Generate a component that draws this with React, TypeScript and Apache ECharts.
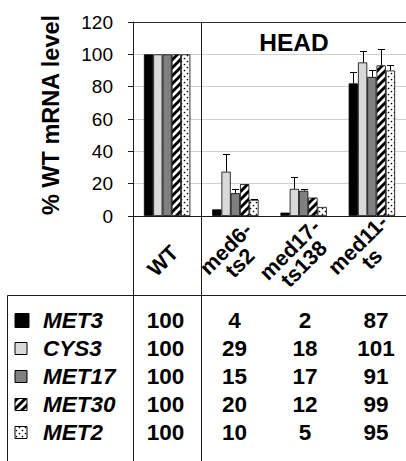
import React, { useEffect, useRef } from "react";
import * as echarts from "echarts";

// ---------- data ----------
const categories = ["WT", "med6-ts2", "med17-ts138", "med11-ts"];
const categoryLabels = ["WT", "med6-\nts2", "med17-\nts138", "med11-\nts"];
const genes = ["MET3", "CYS3", "MET17", "MET30", "MET2"];

const met3Values = [100, 4.1, 2.1, 82];
const cys3Values = [100, 27.4, 16.8, 95];
const met17Values = [100, 14.1, 15.6, 86];
const met30Values = [100, 19.7, 11.4, 93.2];
const met2Values = [100, 10, 5.6, 90];

const met3Errors = [0, 0, 0, 7.3];
const cys3Errors = [0, 10.8, 7.3, 7.3];
const met17Errors = [0, 2.3, 1, 4.1];
const met30Errors = [0, 0, 0, 10.3];
const met2Errors = [0, 0.8, 0, 3.6];

const met3Table = [100, 4, 2, 87];
const cys3Table = [100, 29, 18, 101];
const met17Table = [100, 15, 17, 91];
const met30Table = [100, 20, 12, 99];
const met2Table = [100, 10, 5, 95];

const yMin = 0;
const yMax = 120;
const yInterval = 20;

const chartTitle = "HEAD";
const yAxisTitle = "% WT mRNA level";

// ---------- layout ----------
const W = 406;
const H = 461;
const GRID_LEFT = 133;
const GRID_TOP = 22;
const GRID_HEIGHT = 194;
const GRID_WIDTH = 284;
const BAR_FRAC = 0.136;
const DIVIDER_X = 201.5;
const TABLE_TOP = 295.5;
const TABLE_LEFT = 7.5;
const ROW_Y0 = 320;
const ROW_STEP = 28;
const COL_X = [165.5, 234.5, 305, 376];
const LABEL_POS = [
  [163, 261],
  [233, 256],
  [297, 257],
  [365, 252],
];
const FONT = "Liberation Sans";

function makeHatch() {
  const c = document.createElement("canvas");
  c.width = 8;
  c.height = 8;
  const g = c.getContext("2d")!;
  g.fillStyle = "#fff";
  g.fillRect(0, 0, 8, 8);
  g.strokeStyle = "#000";
  g.lineWidth = 3;
  g.beginPath();
  for (let k = -1; k <= 1; k++) {
    g.moveTo(k * 8 - 1, 9);
    g.lineTo(k * 8 + 9, -1);
  }
  g.stroke();
  return c;
}

function makeDots() {
  const c = document.createElement("canvas");
  c.width = 6;
  c.height = 6;
  const g = c.getContext("2d")!;
  g.fillStyle = "#fff";
  g.fillRect(0, 0, 6, 6);
  g.fillStyle = "#000";
  g.beginPath();
  g.arc(1.5, 1.5, 0.85, 0, Math.PI * 2);
  g.arc(4.5, 4.5, 0.85, 0, Math.PI * 2);
  g.fill();
  return c;
}

function txt(x: number, y: number, text: string, size: number, opts: any = {}) {
  return {
    type: "text",
    x,
    y,
    rotation: opts.rotation || 0,
    silent: true,
    z: 6,
    style: {
      text,
      fontSize: size,
      fontWeight: "bold",
      fontStyle: opts.italic ? "italic" : "normal",
      fontFamily: FONT,
      lineHeight: opts.lineHeight,
      fill: "#000",
      textAlign: opts.align || "center",
      textVerticalAlign: "middle",
    },
  };
}

export default function App() {
  const ref = useRef<HTMLDivElement>(null);

  useEffect(() => {
    if (!ref.current) return;
    const chart = echarts.init(ref.current, undefined, { renderer: "svg" });

    const hatch = makeHatch();
    const dots = makeDots();
    const fills: any[] = [
      "#000000",
      "#d9d9d9",
      "#808080",
      { image: hatch, repeat: "repeat", imageWidth: 8, imageHeight: 8 },
      { image: dots, repeat: "repeat", imageWidth: 6, imageHeight: 6 },
    ];
    const values = [met3Values, cys3Values, met17Values, met30Values, met2Values];
    const errors = [met3Errors, cys3Errors, met17Errors, met30Errors, met2Errors];
    const tables = [met3Table, cys3Table, met17Table, met30Table, met2Table];

    const barSeries = genes.map((g, i) => ({
      type: "bar",
      name: g,
      data: values[i],
      barWidth: (BAR_FRAC * 100).toFixed(1) + "%",
      barGap: "0%",
      itemStyle: { color: fills[i], borderColor: "#000", borderWidth: 0.8 },
      silent: true,
    }));

    const errData: number[][] = [];
    genes.forEach((_, gi) => {
      categories.forEach((_, ci) => {
        errData.push([ci, values[gi][ci], gi, errors[gi][ci]]);
      });
    });

    const errSeries = {
      type: "custom",
      z: 10,
      silent: true,
      data: errData,
      encode: { x: 0, y: 1 },
      renderItem: (params: any, api: any) => {
        const ci = api.value(0);
        const v = api.value(1);
        const gi = api.value(2);
        const e = api.value(3);
        if (!e) return { type: "group", children: [] };
        const base = api.coord([ci, v]);
        const top = api.coord([ci, v + e]);
        const bw = api.size([1, 0])[0] * BAR_FRAC;
        const x = Math.round(base[0] + (gi - 2) * bw) + 0.5;
        const ty = Math.round(top[1]) + 0.5;
        return {
          type: "group",
          children: [
            { type: "line", shape: { x1: x, y1: base[1], x2: x, y2: ty }, style: { stroke: "#000", lineWidth: 1 } },
            { type: "line", shape: { x1: x - 3.5, y1: ty, x2: x + 3.5, y2: ty }, style: { stroke: "#000", lineWidth: 1 } },
          ],
        };
      },
    };

    const graphics: any[] = [];
    const line = (x1: number, y1: number, x2: number, y2: number, color = "#1a1a1a") =>
      graphics.push({
        type: "line",
        silent: true,
        z: 5,
        shape: { x1, y1, x2, y2 },
        style: { stroke: color, lineWidth: 1 },
      });

    const axisBottom = GRID_TOP + GRID_HEIGHT;
    line(GRID_LEFT, GRID_TOP + 0.5, W, GRID_TOP + 0.5, "#303030");
    line(DIVIDER_X, GRID_TOP, DIVIDER_X, H);
    line(GRID_LEFT + 0.5, axisBottom, GRID_LEFT + 0.5, H);
    line(TABLE_LEFT, TABLE_TOP, W, TABLE_TOP);
    line(TABLE_LEFT, TABLE_TOP, TABLE_LEFT, H);

    graphics.push(txt(294, 42, chartTitle, 24.5));
    graphics.push(txt(51, 115, yAxisTitle, 23.5, { rotation: Math.PI / 2 }));

    categoryLabels.forEach((lbl, i) => {
      graphics.push(
        txt(LABEL_POS[i][0], LABEL_POS[i][1], lbl, 21.5, { rotation: Math.PI / 4, lineHeight: 20 })
      );
    });

    genes.forEach((g, gi) => {
      const cy = ROW_Y0 + gi * ROW_STEP;
      const size = gi === 0 ? 14 : 12;
      graphics.push({
        type: "rect",
        silent: true,
        shape: { x: 15, y: Math.round(cy - size / 2) + 0.5, width: size, height: size },
        style: { fill: fills[gi], stroke: "#000", lineWidth: 1 },
      });
      graphics.push(txt(43, cy, g, 22.5, { italic: true, align: "left" }));
      tables[gi].forEach((v, ci) => {
        graphics.push(txt(COL_X[ci], cy, String(v), 22.5));
      });
    });

    chart.setOption({
      animation: false,
      backgroundColor: "#fff",
      textStyle: { fontFamily: FONT },
      grid: { left: GRID_LEFT, top: GRID_TOP, width: GRID_WIDTH, height: GRID_HEIGHT, containLabel: false },
      xAxis: {
        type: "category",
        data: categories,
        axisLine: { show: true, lineStyle: { color: "#1a1a1a", width: 1 } },
        axisTick: { show: false },
        axisLabel: { show: false },
        splitLine: { show: false },
      },
      yAxis: {
        type: "value",
        min: yMin,
        max: yMax,
        interval: yInterval,
        axisLine: { show: true, lineStyle: { color: "#1a1a1a", width: 1 } },
        axisTick: { show: true, length: 5, lineStyle: { color: "#1a1a1a" } },
        axisLabel: { color: "#000", fontSize: 19, fontFamily: FONT, margin: 20 },
        splitLine: { show: true, lineStyle: { color: "#d0d0d0", width: 1 } },
      },
      series: [...barSeries, errSeries],
      graphic: graphics,
    });

    return () => chart.dispose();
  }, []);

  return (
    <div
      ref={ref}
      style={{ position: "fixed", left: 0, top: 0, width: W, height: H, background: "#fff" }}
    />
  );
}
